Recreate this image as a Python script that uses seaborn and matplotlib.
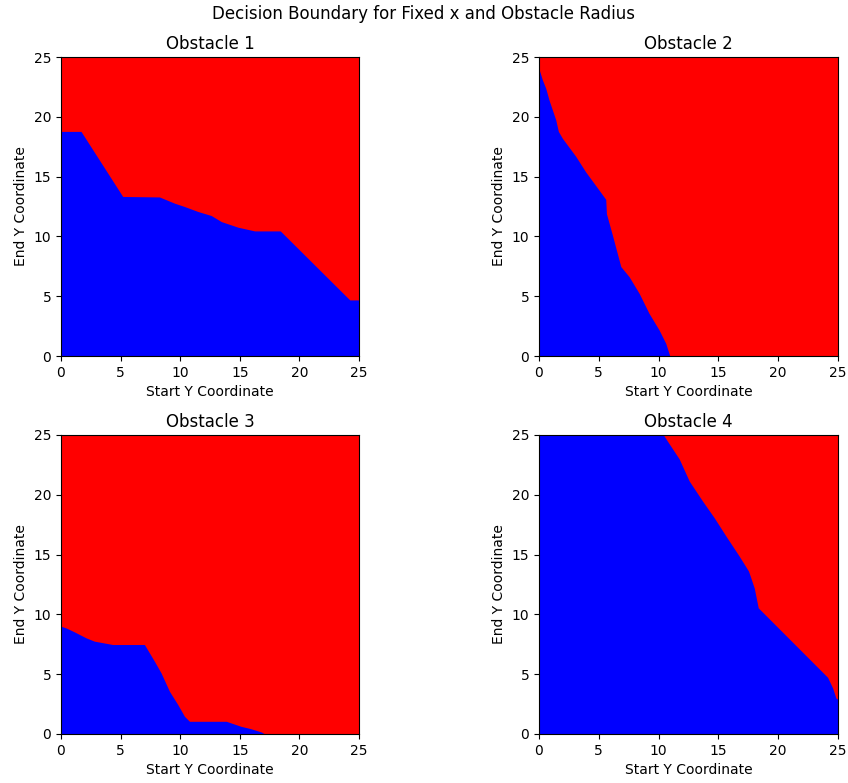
import numpy as np
import pandas as pd
import matplotlib
matplotlib.use("Agg")
import matplotlib.pyplot as plt
import seaborn as sns

# Boundary knots (start y -> end y boundary); below = blue, above = red
obs1_x = [0, 1.68, 5.18, 8.26, 9.52, 10.36, 11.5, 12.6, 13.45, 14.85, 16.25, 18.4, 24.23, 25]
obs1_y = [18.78, 18.78, 13.34, 13.3, 12.78, 12.5, 12.08, 11.75, 11.24, 10.77, 10.46, 10.46, 4.69, 4.69]

obs2_x = [0, 0.28, 0.56, 0.84, 1.4, 1.62, 1.96, 3.07, 3.9, 5.0, 5.58, 5.64, 6.14, 6.84, 7.53, 8.37, 9.2, 10.04, 10.6, 10.94, 25]
obs2_y = [24.0, 23.1, 22.4, 21.4, 19.75, 18.78, 18.2, 16.7, 15.4, 13.9, 13.1, 11.9, 10.1, 7.48, 6.64, 5.25, 3.57, 2.18, 1.06, 0.0, 0.0]

obs3_x = [0, 0.42, 1.12, 2.1, 2.8, 4.34, 7.0, 7.42, 7.84, 8.4, 9.1, 9.8, 10.36, 10.78, 13.87, 15.1, 15.9, 16.8, 17.1, 25]
obs3_y = [9.01, 8.87, 8.54, 8.04, 7.76, 7.48, 7.48, 6.78, 6.08, 5.1, 3.57, 2.46, 1.48, 1.06, 1.06, 0.64, 0.45, 0.17, 0.0, 0.0]

obs4_x = [0, 10.4, 11.72, 12.56, 13.67, 14.65, 15.63, 16.74, 17.52, 18.0, 18.33, 24.13, 24.55, 24.83, 25]
obs4_y = [25, 25, 23.0, 21.15, 19.48, 18.08, 16.55, 14.87, 13.62, 12.2, 10.55, 4.74, 3.85, 3.0, 2.9]

titles = ["Obstacle 1", "Obstacle 2", "Obstacle 3", "Obstacle 4"]
ticks = [0, 5, 10, 15, 20, 25]

frames = []
for t, xs, ys in zip(titles, [obs1_x, obs2_x, obs3_x, obs4_x], [obs1_y, obs2_y, obs3_y, obs4_y]):
    frames.append(pd.DataFrame({"obstacle": t, "start": xs, "end": ys}))
df = pd.concat(frames, ignore_index=True)

sns.set_style("ticks", rc={
    "axes.edgecolor": "black", "text.color": "black", "axes.labelcolor": "black",
    "xtick.color": "black", "ytick.color": "black",
})
plt.rcParams["font.family"] = ["DejaVu Sans"]

fig = plt.figure(figsize=(8.48, 7.83), dpi=100)
positions = [
    [0.0719, 0.5453, 0.3514, 0.3819],
    [0.6356, 0.5453, 0.3526, 0.3819],
    [0.0719, 0.0626, 0.3514, 0.3819],
    [0.6356, 0.0626, 0.3526, 0.3819],
]
for pos, t in zip(positions, titles):
    ax = fig.add_axes(pos)
    sub = df[df["obstacle"] == t]
    ax.set_facecolor("red")
    ax.fill_between(sub["start"], 0, sub["end"], color="blue", lw=0, antialiased=False)
    ax.set_xlim(0, 25)
    ax.set_ylim(0, 25)
    ax.set_xticks(ticks)
    ax.set_yticks(ticks)
    ax.set_title(t, fontsize=12)
    ax.set_xlabel("Start Y Coordinate", fontsize=10)
    ax.set_ylabel("End Y Coordinate", fontsize=10)
    for s in ax.spines.values():
        s.set_visible(True)
        s.set_linewidth(0.8)

fig.suptitle("Decision Boundary for Fixed x and Obstacle Radius", fontsize=12, y=0.993)
fig.savefig("out.png", dpi=100)
